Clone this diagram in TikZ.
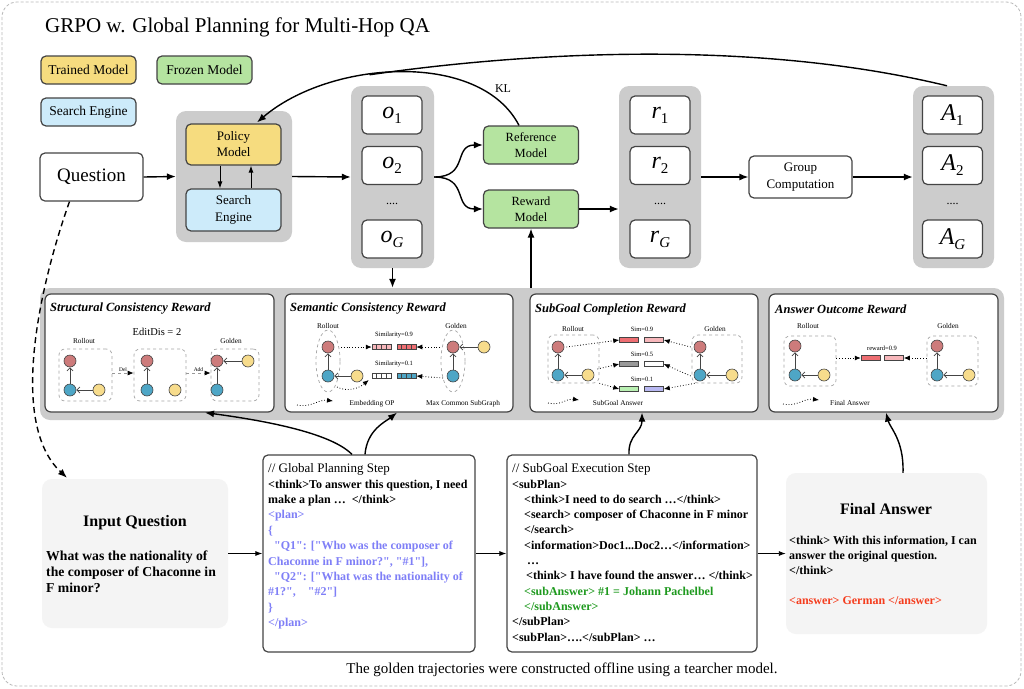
\documentclass[tikz,border=0pt]{standalone}
\usepackage{fontspec}
\setmainfont{Liberation Serif}[Ligatures=TeXOff]
\usetikzlibrary{arrows.meta,shapes.geometric,calc}
\definecolor{cyel}{HTML}{F6DC7F}
\definecolor{cgrn}{HTML}{B5E4A0}
\definecolor{cblu}{HTML}{CDEBFA}
\definecolor{cgray}{HTML}{CCCCCC}
\definecolor{cpale}{HTML}{F4F4F4}
\definecolor{cbord}{HTML}{444444}
\definecolor{nred}{HTML}{CD7B7B}
\definecolor{nteal}{HTML}{4EA6C6}
\definecolor{nyel}{HTML}{F7DC8C}
\definecolor{tblue}{HTML}{7F7FF7}
\definecolor{tgreen}{HTML}{1F9A1F}
\definecolor{tred}{HTML}{F43D1E}
\definecolor{bred}{HTML}{EE6E72}
\definecolor{bpink}{HTML}{F7B7BB}
\definecolor{bgray}{HTML}{999999}
\definecolor{bgreen}{HTML}{B9F0B2}
\definecolor{blav}{HTML}{B8B8F2}
\newcommand{\fsz}[2]{\fontsize{#1}{#2}\selectfont}
\newcommand{\vsub}[2]{{\itshape #1}\raisebox{-5pt}{\fsz{15}{15}#2}}
\begin{document}
\begin{tikzpicture}[x=1pt,y=-1pt,
  box/.style={draw=cbord, line width=1.2pt, rounded corners=5pt, align=center, inner sep=0pt},
  grp/.style={fill=cgray, rounded corners=10pt, inner sep=0pt},
  arr/.style={line width=1.4pt, -{Latex[length=9pt,width=7pt]}},
  sarr/.style={line width=0.9pt, -{Latex[length=7pt,width=5pt]}},
  panel/.style={draw=cbord, line width=1.2pt, fill=white, rounded corners=6pt, inner sep=0pt, minimum height=118},
  ptitle/.style={anchor=west, inner sep=0pt, font=\fsz{12.5}{14}\bfseries\itshape},
  smalltxt/.style={inner sep=0pt, font=\fsz{7.3}{8}},
  simtxt/.style={inner sep=0pt, font=\fsz{6.5}{7}},
  gn/.style={circle, draw=cbord, line width=0.6pt, minimum size=12, inner sep=0pt},
  rn/.style={gn, fill=nred}, tn/.style={gn, fill=nteal}, yn/.style={gn, fill=nyel},
  garr/.style={draw=cbord, line width=0.8pt, -{Straight Barb[length=3pt,width=6pt]}},
  dbox/.style={draw=gray!70, dashed, line width=0.7pt, rounded corners=6pt, inner sep=0pt},
  dotarr/.style={dotted, line width=0.8pt, -{Latex[length=6pt,width=5pt]}},
  barbox/.style={draw=cbord, line width=0.5pt, minimum width=19, minimum height=5, inner sep=0pt},
  valbox/.style={box, fill=white, minimum width=60, minimum height=38, font=\fsz{24}{24}},
  dotsl/.style={inner sep=0pt, font=\fsz{12}{12}},
]
\useasboundingbox (0,0) rectangle (1024,688);
\fill[white] (0,0) rectangle (1024,688);
\draw[draw=gray!55, line width=0.8pt, dash pattern=on 3pt off 2pt, rounded corners=15pt] (2,2) rectangle (1021,686);

% ---------- top ----------
\node[anchor=base west, inner sep=0pt, font=\fsz{21}{21}] (title) at (45,32) {GRPO w. Global Planning for Multi-Hop QA};

\node[box, fill=cyel, minimum width=95, minimum height=28, font=\fsz{13.5}{14}] (leg1) at (88.5,70) {Trained Model};
\node[box, fill=cgrn, minimum width=95, minimum height=28, font=\fsz{13.5}{14}] (leg2) at (204.5,70) {Frozen Model};
\node[box, fill=cblu, minimum width=95, minimum height=28, font=\fsz{13.5}{14}] (leg3) at (88.5,112) {Search Engine};

\node[box, fill=white, minimum width=103, minimum height=48, font=\fsz{19}{19}] (question) at (91.5,177) {Question};

\node[grp, minimum width=116, minimum height=131] (polgrp) at (234,176.5) {};
\node[box, fill=cyel, minimum width=95, minimum height=41, font=\fsz{13}{16}] (policy) at (233.5,144.5) {Policy\\Model};
\node[box, fill=cblu, minimum width=95, minimum height=42, font=\fsz{13}{16.5}] (search) at (233.5,210) {Search\\Engine};
\draw[sarr] ($(policy.south)+(-13.5,0)$) -- ($(search.north)+(-13.5,0)$);
\draw[sarr] ($(search.north)+(17.5,0)$) -- ($(policy.south)+(17.5,0)$);

\node[grp, minimum width=83, minimum height=182] (ogrp) at (392.5,177) {};
\node[valbox] (o1) at (392,115) {\vsub{o}{1}};
\node[valbox] (o2) at (392,165.5) {\vsub{o}{2}};
\node[dotsl] (odots) at (392,204) {....};
\node[valbox] (oG) at (392,239) {\vsub{o}{\itshape G}};

\node[box, fill=cgrn, minimum width=95, minimum height=38, font=\fsz{12.5}{16}] (ref) at (531,145) {Reference\\Model};
\node[box, fill=cgrn, minimum width=95, minimum height=38, font=\fsz{12.5}{16}] (rew) at (531,209) {Reward\\Model};

\node[grp, minimum width=82, minimum height=182] (rgrp) at (660,177) {};
\node[valbox] (r1) at (660,115) {\vsub{r}{1}};
\node[valbox] (r2) at (660,165.5) {\vsub{r}{2}};
\node[dotsl] (rdots) at (660,204) {....};
\node[valbox] (rG) at (660,239) {\vsub{r}{\itshape G}};

\node[box, fill=white, minimum width=103, minimum height=42, font=\fsz{13}{16.5}] (gc) at (800.5,177) {Group\\Computation};

\node[grp, minimum width=81, minimum height=182] (agrp) at (953.5,177) {};
\node[valbox] (a1) at (952.5,115) {\vsub{A}{1}};
\node[valbox] (a2) at (952.5,165.5) {\vsub{A}{2}};
\node[dotsl] (adots) at (952.5,204) {....};
\node[valbox] (aG) at (952.5,239) {\vsub{A}{\itshape G}};

\draw[arr] (question.east) -- (polgrp.west);
\draw[arr] (polgrp.east) -- (ogrp.west);
\draw[arr] (ogrp.east) .. controls +(35,0) and +(-30,0) .. (ref.west);
\draw[arr] (ogrp.east) .. controls +(35,0) and +(-30,0) .. (rew.west);
\draw[arr] (rew.east) -- (rew.east -| rgrp.west);
\draw[arr] (rgrp.east) -- (gc.west);
\draw[arr] (gc.east) -- (agrp.west);
\draw[arr] ($(ref.north)+(-12,0)$) .. controls (480,50) and (330,60) .. coordinate[pos=0.6] (klm) ($(policy.north)+(23.5,-1)$);
\draw[line width=1.4pt] ($(agrp.north)+(-6.5,0)$) .. controls (750,38) and (520,53) .. (klm);
\node[inner sep=0pt, font=\fsz{12}{12}] (kl) at (503,89) {KL};

% ---------- reward band ----------
\node[grp, minimum width=964, minimum height=132] (band) at (522,354) {};
\draw[arr] (ogrp.south) -- (ogrp.south |- band.north);
\draw[arr] (band.north -| rew.south) -- (rew.south);

\node[panel, minimum width=229] (p1) at (159.5,353) {};
\node[panel, minimum width=228] (p2) at (399,353) {};
\node[panel, minimum width=228] (p3) at (644,353) {};
\node[panel, minimum width=229] (p4) at (883.5,353) {};

% panel 1
\node[ptitle] (p1t) at (50,309) {Structural Consistency Reward};
\node[inner sep=0pt, font=\fsz{10.5}{11}] (p1e) at (157,332) {EditDis = 2};
\node[smalltxt] (p1r) at (84,341) {Rollout};
\node[smalltxt] (p1g) at (231,341) {Golden};
\node[dbox, minimum width=53, minimum height=52] (s1a) at (85.5,375) {};
\node[rn] (s1ar) at (70,361) {};
\node[tn] (s1at) at (70,390) {};
\node[yn] (s1ay) at (99,390) {};
\draw[garr] (s1at) -- (s1ar);
\draw[garr] (s1ay) -- (s1at);
\node[dbox, minimum width=52, minimum height=52] (s1b) at (160,375) {};
\node[rn] (s1br) at (147,361) {};
\node[tn] (s1bt) at (147,390) {};
\node[yn] (s1by) at (175,390) {};
\draw[garr] (s1bt) -- (s1br);
\node[dbox, minimum width=48, minimum height=52] (s1c) at (235,375) {};
\node[rn] (s1cr) at (217,361) {};
\node[yn] (s1cy) at (248,361) {};
\node[tn] (s1ct) at (217,390) {};
\draw[garr] (s1cy) -- (s1cr);
\draw[garr] (s1ct) -- (s1cr);
\draw[draw=gray!80, dashed, line width=0.8pt, -{Latex[length=6pt,width=5pt,color=black]}] ($(s1a.east)+(0,-2)$) -- node[above=1.5pt, font=\fsz{5.5}{6}, inner sep=0pt, text=black] (pdel) {Del} ($(s1b.west)+(0,-2)$);
\draw[draw=gray!80, dashed, line width=0.8pt, -{Latex[length=6pt,width=5pt,color=black]}] ($(s1b.east)+(0,-2)$) -- node[above=1.5pt, font=\fsz{5.5}{6}, inner sep=0pt, text=black] (padd) {Add} ($(s1c.west)+(0,-2)$);

% panel 2
\node[ptitle] (p2t) at (290,309) {Semantic Consistency Reward};
\node[smalltxt] (p2r) at (328,326) {Rollout};
\node[smalltxt] (p2g) at (456,326) {Golden};
\node[dbox, ellipse, minimum width=24, minimum height=62] (e1) at (328,361) {};
\node[rn] (e1r) at (328,347) {};
\node[tn] (e1t) at (328,376) {};
\node[yn] (e1y) at (357,376) {};
\draw[garr] (e1t) -- (e1r);
\draw[garr] (e1y) -- (e1t);
\node[dbox, ellipse, minimum width=24, minimum height=62] (e2) at (453,361) {};
\node[rn] (e2r) at (453,347) {};
\node[tn] (e2t) at (453,376) {};
\node[yn] (e2y) at (484,347) {};
\draw[garr] (e2y) -- (e2r);
\draw[garr] (e2t) -- (e2r);
\node[simtxt] (sim9) at (394,335) {Similarity=0.9};
\node[simtxt] (sim1) at (394,364) {Similarity=0.1};
\node[barbox, fill=bpink] (sb1) at (381.5,347) {};
\node[barbox, fill=bred] (sb2) at (406.5,347) {};
\node[barbox, fill=white] (sb3) at (381.5,376) {};
\node[barbox, fill=nteal] (sb4) at (406.5,376) {};
\foreach \b in {sb1,sb2,sb3,sb4}
  \foreach \i in {1,2,3}
    \draw[cbord, line width=0.4pt] ($(\b.north west)+(\i*4.75,0)$) -- ($(\b.south west)+(\i*4.75,0)$);
\draw[dotarr] ($(e1r)+(13,0)$) -- (sb1.west);
\draw[dotarr] ($(e2r)+(-13,0)$) -- (sb2.east);
\draw[dotarr] ($(e1)+(9,26)$) .. controls (347,392) and (358,389) .. ($(sb3.west)+(-3,4)$);
\draw[dotarr] ($(e2t)+(-10,2)$) -- (sb4.east);
\coordinate (l2a) at (297,405);
\coordinate (l2b) at (333,401);
\draw[dotarr] (l2a) .. controls (312,408) and (318,399) .. (l2b);
\node[smalltxt] (p2emb) at (372,404) {Embedding OP};
\node[smalltxt] (p2mcs) at (463,404) {Max Common SubGraph};

% panel 3
\node[ptitle] (p3t) at (535,309) {SubGoal Completion Reward};
\node[smalltxt] (p3r) at (573,329) {Rollout};
\node[smalltxt] (p3g) at (715,329) {Golden};
\node[dbox, minimum width=51, minimum height=48] (g1) at (573.5,359) {};
\node[rn] (g1r) at (558,347) {};
\node[tn] (g1t) at (558,375) {};
\node[yn] (g1y) at (588,375) {};
\draw[garr] (g1t) -- (g1r);
\draw[garr] (g1y) -- (g1t);
\node[dbox, minimum width=50, minimum height=48] (g2) at (717,359) {};
\node[rn] (g2r) at (700,347) {};
\node[tn] (g2t) at (700,375) {};
\node[yn] (g2y) at (732,375) {};
\draw[garr] (g2t) -- (g2r);
\draw[garr] (g2y) -- (g2t);
\node[simtxt] (s09) at (642,329) {Sim=0.9};
\node[simtxt] (s05) at (642,354) {Sim=0.5};
\node[simtxt] (s01) at (642,379) {Sim=0.1};
\node[barbox, fill=bred] (gb1) at (629,340) {};
\node[barbox, fill=bpink] (gb2) at (654,340) {};
\node[barbox, fill=bgray] (gb3) at (629,364) {};
\node[barbox, fill=white] (gb4) at (654,364) {};
\node[barbox, fill=bgreen] (gb5) at (629,389) {};
\node[barbox, fill=blav] (gb6) at (654,389) {};
\draw[dotarr] ($(g1r.east)+(2,0)$) -- (gb1.west);
\draw[dotarr] ($(g1.east)+(-2,10)$) -- (gb3.west);
\draw[dotarr] (g1.south east) -- (gb5.west);
\draw[dotarr] ($(g2r.west)+(-3,0)$) -- (gb2.east);
\draw[dotarr] ($(g2t.west)+(-3,1)$) -- (gb4.east);
\draw[dotarr] ($(g2.south west)+(3,0)$) -- (gb6.east);
\coordinate (l3a) at (548,403);
\coordinate (l3b) at (579,400);
\draw[dotarr] (l3a) .. controls (562,406) and (566,398) .. (l3b);
\node[smalltxt] (p3sa) at (618,403) {SubGoal Answer};

% panel 4
\node[ptitle] (p4t) at (775,309) {Answer Outcome Reward};
\node[smalltxt] (p4r) at (808,326) {Rollout};
\node[smalltxt] (p4g) at (948,326) {Golden};
\node[dbox, minimum width=52, minimum height=50] (h1) at (810,361) {};
\node[rn] (h1r) at (795,346) {};
\node[tn] (h1t) at (795,375) {};
\node[yn] (h1y) at (824,375) {};
\draw[garr] (h1t) -- (h1r);
\draw[garr] (h1y) -- (h1t);
\node[dbox, minimum width=51, minimum height=50] (h2) at (952.5,361) {};
\node[rn] (h2r) at (937,346) {};
\node[tn] (h2t) at (937,375) {};
\node[yn] (h2y) at (969,375) {};
\draw[garr] (h2t) -- (h2r);
\draw[garr] (h2y) -- (h2t);
\node[simtxt] (rw9) at (882,348) {reward=0.9};
\node[barbox, fill=bred] (ab1) at (870.5,358) {};
\node[barbox, fill=bpink] (ab2) at (894,358) {};
\draw[dotarr] (h1.east |- ab1) -- (ab1.west);
\draw[dotarr] (h2.west |- ab2) -- (ab2.east);
\coordinate (l4a) at (783,404);
\coordinate (l4b) at (819,400);
\draw[dotarr] (l4a) .. controls (798,407) and (803,398) .. (l4b);
\node[smalltxt] (p4fa) at (850,403) {Final Answer};

% ---------- bottom ----------
\node[fill=cpale, rounded corners=10pt, minimum width=186, minimum height=149, inner sep=0pt] (inq) at (135,553.5) {};
\node[inner sep=0pt, font=\fsz{16}{16}\bfseries] (inqt) at (135,523) {Input Question};
\node[anchor=north west, inner sep=0pt, align=left, font=\fsz{13.7}{16}\bfseries] (inqq) at (46,551) {What was the nationality of\\the composer of Chaconne in\\F minor?};

\node[box, fill=white, minimum width=212, minimum height=197] (gps) at (369,553.5) {};
\node[anchor=north west, inner sep=0pt, align=left, font=\fsz{12}{15.4}\bfseries] (gpst) at (268,463.5) {%
{\fsz{13}{15.4}\mdseries // Global Planning Step}\\
<think>To answer this question, I need\\
make a plan …\ \ </think>\\
{\color{tblue}<plan>}\\
{\color{tblue}\{}\\
{\color{tblue}\hspace*{6pt}"Q1": ["Who was the composer of}\\
{\color{tblue}Chaconne in F minor?", "\#1"],}\\
{\color{tblue}\hspace*{6pt}"Q2": ["What was the nationality of}\\
{\color{tblue}\#1?",\hspace{12pt}"\#2"]}\\
{\color{tblue}\}}\\
{\color{tblue}</plan>}};

\node[box, fill=white, minimum width=250, minimum height=197] (sge) at (632,553.5) {};
\node[anchor=north west, inner sep=0pt, align=left, font=\fsz{12}{15.3}\bfseries] (sget) at (512,463.5) {%
{\fsz{13}{15.3}\mdseries // SubGoal Execution Step}\\
<subPlan>\\
\hspace*{12pt}<think>I need to do search …</think>\\
\hspace*{12pt}<search> composer of Chaconne in F minor\\
\hspace*{12pt}</search>\\
\hspace*{12pt}<information>Doc1...Doc2…</information>\\
\hspace*{15pt}…\\
\hspace*{14pt}<think> I have found the answer… </think>\\
\hspace*{12pt}{\color{tgreen}<subAnswer> \#1 = Johann Pachelbel}\\
\hspace*{12pt}{\color{tgreen}</subAnswer>}\\
</subPlan>\\
<subPlan>….</subPlan> …};

\node[fill=cpale, rounded corners=10pt, minimum width=201, minimum height=161, inner sep=0pt] (fa) at (886.5,553.5) {};
\node[inner sep=0pt, font=\fsz{16}{16}\bfseries] (fat) at (886,509) {Final Answer};
\node[anchor=north west, inner sep=0pt, align=left, font=\fsz{12}{15}\bfseries] (fatx) at (789,536) {%
<think> With this information, I can\\
answer the original question.\\
</think>\\[15pt]
{\color{tred}<answer> German </answer>}};

\node[anchor=base, inner sep=0pt, font=\fsz{15}{15}] (cap) at (562,673) {The golden trajectories were constructed offline using a tearcher model.};

\draw[sarr] (inq.east) -- (gps.west);
\draw[sarr] (gps.east) -- (sge.west);
\draw[sarr] (sge.east) -- (fa.west);

\draw[line width=1.4pt, dash pattern=on 6pt off 4pt, -{Latex[length=9pt,width=7pt]}] ($(question.south)+(-22,0)$) .. controls (45,270) and (5,420) .. ($(inq.north)+(-68,-1)$);

\draw[arr] ($(gps.north)+(-17,0)$) .. controls (330,432) and (260,420) .. ($(p1.south)+(45.5,0)$);
\draw[arr] ($(gps.north)+(-4,0)$) .. controls (367,430) and (385,422) .. ($(p2.south)+(-2,0)$);
\draw[arr] ($(sge.north)+(-3,0)$) .. controls (628,435) and (642,432) .. ($(p3.south)+(-2,0)$);
\draw[arr] ($(fa.north)+(16.5,0)$) .. controls (904,440) and (890,428) .. ($(p4.south)+(2.5,0)$);
\end{tikzpicture}
\end{document}
